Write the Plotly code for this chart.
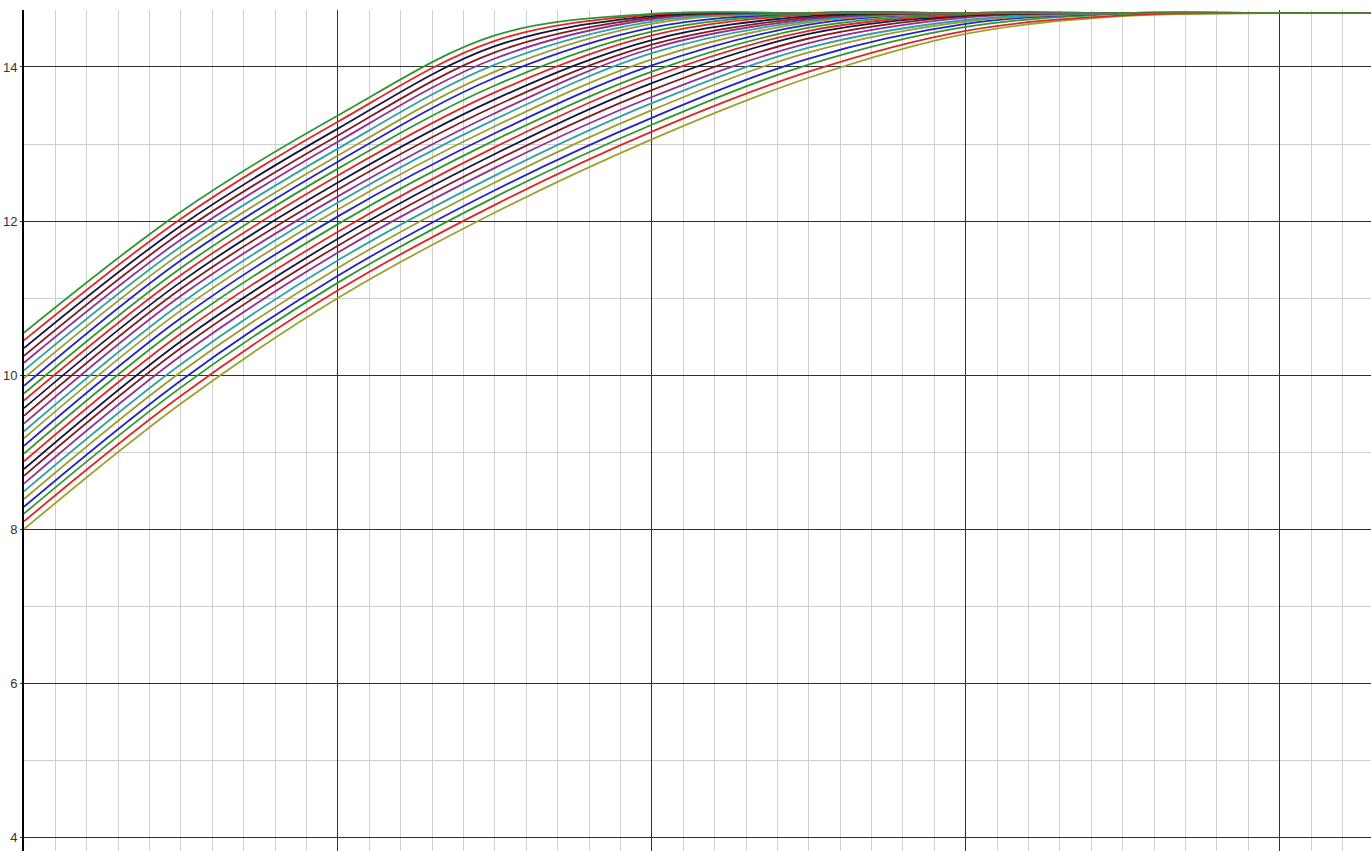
import plotly.graph_objects as go

# time axis (major grid units)
t = [0, 0.5, 1.0, 1.5, 2.0, 2.5, 3.0, 3.5, 4.0, 4.29]

c00 = [8.00, 9.63, 11.00, 12.11, 13.06, 13.86, 14.43, 14.66, 14.70, 14.70]
c01 = [8.10, 9.73, 11.10, 12.21, 13.16, 13.94, 14.47, 14.67, 14.70, 14.70]
c02 = [8.20, 9.84, 11.20, 12.31, 13.25, 14.03, 14.52, 14.69, 14.70, 14.70]
c03 = [8.29, 9.93, 11.29, 12.40, 13.34, 14.11, 14.56, 14.70, 14.70, 14.70]
c04 = [8.39, 10.04, 11.39, 12.50, 13.44, 14.19, 14.59, 14.70, 14.70, 14.70]
c05 = [8.49, 10.14, 11.49, 12.59, 13.53, 14.25, 14.61, 14.70, 14.70, 14.70]
c06 = [8.59, 10.25, 11.59, 12.69, 13.61, 14.31, 14.64, 14.70, 14.70, 14.70]
c07 = [8.69, 10.35, 11.68, 12.78, 13.70, 14.37, 14.66, 14.70, 14.70, 14.70]
c08 = [8.78, 10.44, 11.77, 12.87, 13.79, 14.43, 14.67, 14.70, 14.70, 14.70]
c09 = [8.88, 10.54, 11.86, 12.96, 13.87, 14.47, 14.68, 14.70, 14.70, 14.70]
c10 = [8.98, 10.64, 11.96, 13.05, 13.94, 14.51, 14.69, 14.70, 14.70, 14.70]
c11 = [9.08, 10.74, 12.06, 13.14, 14.02, 14.55, 14.70, 14.70, 14.70, 14.70]
c12 = [9.18, 10.84, 12.15, 13.23, 14.10, 14.58, 14.70, 14.70, 14.70, 14.70]
c13 = [9.27, 10.93, 12.24, 13.32, 14.18, 14.60, 14.70, 14.70, 14.70, 14.70]
c14 = [9.37, 11.03, 12.32, 13.40, 14.24, 14.62, 14.70, 14.70, 14.70, 14.70]
c15 = [9.47, 11.12, 12.41, 13.49, 14.29, 14.64, 14.70, 14.70, 14.70, 14.70]
c16 = [9.57, 11.21, 12.50, 13.58, 14.35, 14.66, 14.70, 14.70, 14.70, 14.70]
c17 = [9.67, 11.30, 12.59, 13.67, 14.41, 14.68, 14.70, 14.70, 14.70, 14.70]
c18 = [9.76, 11.39, 12.68, 13.76, 14.46, 14.69, 14.70, 14.70, 14.70, 14.70]
c19 = [9.86, 11.49, 12.77, 13.86, 14.51, 14.70, 14.70, 14.70, 14.70, 14.70]
c20 = [9.96, 11.58, 12.85, 13.94, 14.56, 14.70, 14.70, 14.70, 14.70, 14.70]
c21 = [10.06, 11.67, 12.94, 14.03, 14.59, 14.70, 14.70, 14.70, 14.70, 14.70]
c22 = [10.16, 11.76, 13.03, 14.11, 14.62, 14.70, 14.70, 14.70, 14.70, 14.70]
c23 = [10.25, 11.85, 13.11, 14.19, 14.64, 14.70, 14.70, 14.70, 14.70, 14.70]
c24 = [10.35, 11.94, 13.20, 14.27, 14.66, 14.70, 14.70, 14.70, 14.70, 14.70]
c25 = [10.45, 12.03, 13.29, 14.34, 14.68, 14.70, 14.70, 14.70, 14.70, 14.70]
c26 = [10.55, 12.12, 13.37, 14.41, 14.69, 14.70, 14.70, 14.70, 14.70, 14.70]

curves = [c00, c01, c02, c03, c04, c05, c06, c07, c08, c09, c10, c11, c12,
          c13, c14, c15, c16, c17, c18, c19, c20, c21, c22, c23, c24, c25,
          c26]

first_colour = "#a2a02c"
palette = ["#dd2626", "#2f962f", "#2323c4", "#9b9b30", "#2fa1a1",
           "#932f93", "#801c1c", "#15153f"]

y_ticks = [4, 6, 8, 10, 12, 14]

fig = go.Figure()
for i, ys in enumerate(curves):
    col = first_colour if i == 0 else palette[(i - 1) % len(palette)]
    fig.add_trace(go.Scatter(
        x=t, y=ys, mode="lines",
        line=dict(color=col, width=1.8, shape="spline", smoothing=1.0),
        showlegend=False, hoverinfo="skip"))

fig.update_layout(
    width=1371, height=851,
    margin=dict(l=24, r=0, t=10, b=0),
    paper_bgcolor="white", plot_bgcolor="white",
    xaxis=dict(range=[0, 4.291], dtick=1, tick0=0,
               showgrid=True, gridcolor="#303030", gridwidth=1,
               showticklabels=False, zeroline=False, ticks="",
               minor=dict(dtick=0.1, showgrid=True, gridcolor="#cfcfcf",
                          gridwidth=1)),
    yaxis=dict(range=[3.82, 14.74], tickvals=y_ticks,
               ticktext=[str(v) for v in y_ticks],
               showgrid=True, gridcolor="#303030", gridwidth=1,
               zeroline=False, showline=True, linecolor="#000000",
               linewidth=2, ticks="outside", ticklen=2,
               tickcolor="#333333",
               tickfont=dict(family="Liberation Sans, Arial", size=13,
                             color="#333333"),
               minor=dict(dtick=1, tick0=3, showgrid=True,
                          gridcolor="#cfcfcf", gridwidth=1)),
)

fig.write_html("out.html")
